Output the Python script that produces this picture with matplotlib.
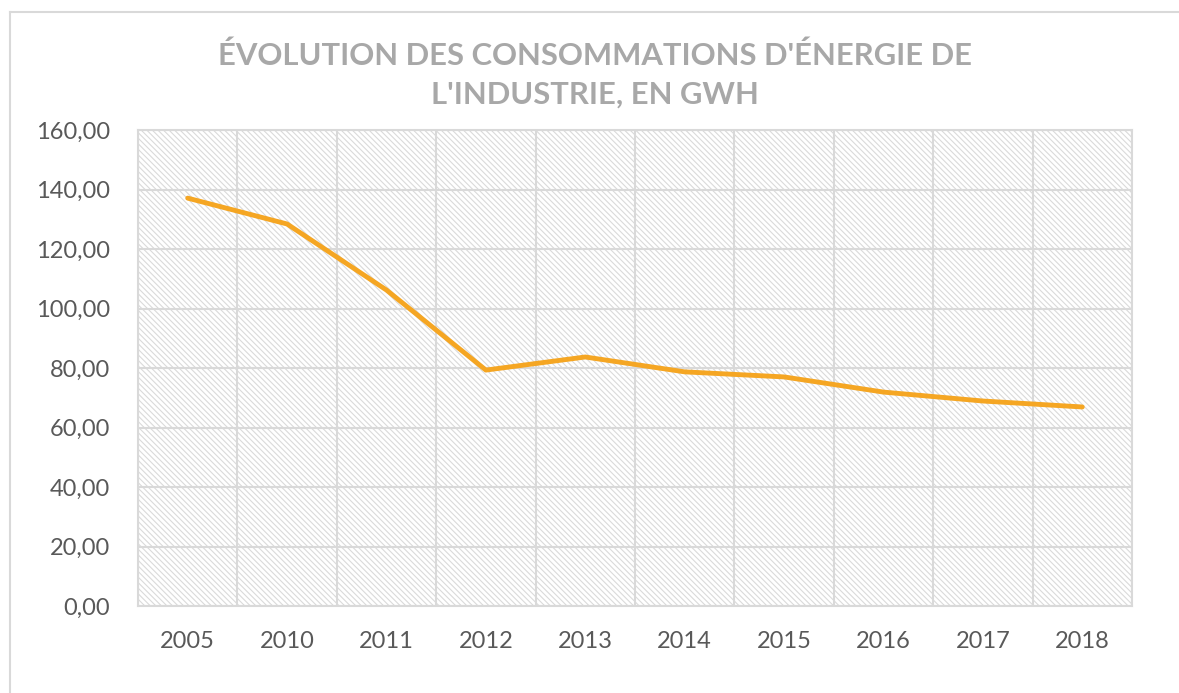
import matplotlib
matplotlib.use("Agg")
import matplotlib.pyplot as plt
from matplotlib.lines import Line2D

years = ["2005", "2010", "2011", "2012", "2013", "2014", "2015", "2016", "2017", "2018"]
values = [137.1, 128.4, 106.2, 79.3, 83.7, 78.7, 77.0, 71.9, 68.9, 66.9]
yticks = [0, 20, 40, 60, 80, 100, 120, 140, 160]
title = "ÉVOLUTION DES CONSOMMATIONS D'ÉNERGIE DE\nL'INDUSTRIE, EN GWH"

plt.rcParams['hatch.linewidth'] = 0.8
plt.rcParams['hatch.color'] = '#dadada'

fig = plt.figure(figsize=(11.79, 6.93), dpi=100)
ax = fig.add_axes([138/1179, 87/693, (1132-138)/1179, (606-130)/693])

ax.patch.set_facecolor('white')
ax.patch.set_hatch('\\' * 6)
ax.patch.set_edgecolor('#dadada')
ax.patch.set_linewidth(0)

x = list(range(len(years)))
ax.plot(x, values, color='#f5a623', lw=3.5, solid_capstyle='round', solid_joinstyle='round', zorder=3)

ax.set_xlim(-0.5, len(years) - 0.5)
ax.set_ylim(0, 160)
ax.set_yticks(yticks)
ax.set_yticklabels([f"{v:.2f}".replace('.', ',') for v in yticks])
ax.set_xticks(x)
ax.set_xticklabels(years)
ax.set_xticks([i - 0.5 for i in range(len(years) + 1)], minor=True)

ax.grid(True, which='major', axis='y', color='#d9d9d9', lw=1.5, zorder=1)
ax.grid(True, which='minor', axis='x', color='#d9d9d9', lw=1.5, zorder=1)
ax.set_axisbelow(True)
for s in ax.spines.values():
    s.set_color('#d9d9d9')
    s.set_linewidth(1.5)

ax.tick_params(axis='both', which='both', length=0, labelsize=17, labelcolor='#595959')
ax.tick_params(axis='y', pad=20)
ax.tick_params(axis='x', pad=18)
for lbl in ax.get_xticklabels() + ax.get_yticklabels():
    lbl.set_fontfamily('Lato')

fig.text(595/1179, 1 - 75/693, title, ha='center', va='center', fontsize=22.3,
         fontweight='bold', color='#a8a8a8', family='Lato', linespacing=1.45)

# outer chart border (left and top)
fig.add_artist(Line2D([10/1179, 10/1179], [0, 1 - 12/693], transform=fig.transFigure, color='#d9d9d9', lw=1.5))
fig.add_artist(Line2D([10/1179, 1], [1 - 12/693, 1 - 12/693], transform=fig.transFigure, color='#d9d9d9', lw=1.5))

fig.savefig('out.png', dpi=100)
